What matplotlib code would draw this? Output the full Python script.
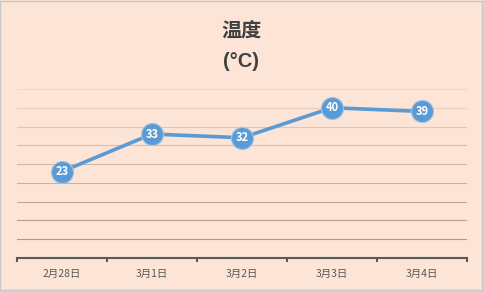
"""Temperature line chart, 2/28 - 3/4."""

import matplotlib

matplotlib.use("Agg")
import matplotlib.pyplot as plt

plt.rcParams["font.family"] = ["Noto Sans CJK SC", "DejaVu Sans"]

dates = ["2月28日", "3月1日", "3月2日", "3月3日", "3月4日"]
temps = [23, 33, 32, 40, 39]
grid_levels = [5, 10, 15, 20, 25, 30, 35, 40, 45]

bg = "#FCE4D6"
line_color = "#5B9BD5"
text_color = "#595959"

fig = plt.figure(figsize=(4.83, 2.91), dpi=100, facecolor=bg)
fig.patches.append(
    plt.Rectangle((0.001, 0.002), 0.997, 0.995, transform=fig.transFigure,
                  fill=False, edgecolor="#C8C8C8", linewidth=1.0)
)
ax = fig.add_axes([0.035, 0.1134, 0.932, 0.581])
ax.set_facecolor(bg)

x = list(range(len(dates)))
ax.set_xlim(-0.5, len(dates) - 0.5)
ax.set_ylim(0, 45)

# gridlines fade towards the top
for i, level in enumerate(grid_levels):
    alpha = 0.85 - 0.7 * i / (len(grid_levels) - 1)
    ax.axhline(level, color="#A88A78", linewidth=0.8, alpha=alpha, zorder=1)

ax.plot(x, temps, color=line_color, linewidth=2.6, zorder=2)
ax.scatter(x, temps, s=250, color=line_color, edgecolors="#9DC3E6",
           linewidths=0.8, zorder=3)
for xi, t in zip(x, temps):
    ax.text(xi, t, str(t), color="white", fontsize=8, ha="center",
            va="center", fontweight="bold", zorder=4)

for side in ("top", "right", "left"):
    ax.spines[side].set_visible(False)
ax.spines["bottom"].set_color(text_color)
ax.spines["bottom"].set_linewidth(1.5)
ax.set_yticks([])
ax.set_xticks([i - 0.5 for i in range(len(dates) + 1)], minor=False)
ax.set_xticklabels([])
ax.tick_params(axis="x", length=3, width=1.5, color=text_color, direction="out")
for xi, label in zip(x, dates):
    ax.text(xi, -4.2, label, color=text_color, fontsize=7.5, ha="center", va="center")

fig.text(0.5, 0.895, "温度", ha="center", va="center", fontsize=14.5,
         fontweight="bold", color="#404040")
fig.text(0.5, 0.79, "(°C)", ha="center", va="center", fontsize=14.5,
         fontweight="bold", color="#404040", family=["Liberation Sans"])

fig.savefig("out.png", dpi=100, facecolor=bg)
